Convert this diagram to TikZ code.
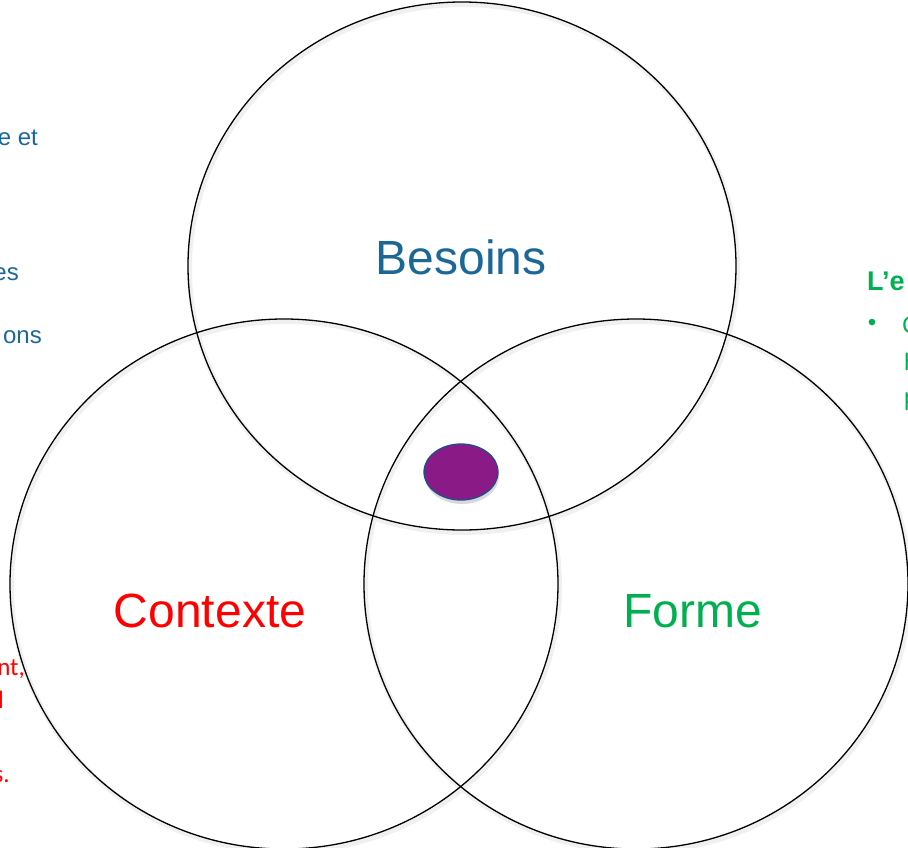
\documentclass[tikz,border=0pt]{standalone}
\usepackage{fontspec}
\setmainfont{Liberation Sans}
\newfontfamily\calib{Carlito}
\usepackage{xcolor}
\usetikzlibrary{shapes.geometric,shadows}
\definecolor{needblue}{HTML}{1B6897}
\definecolor{formgreen}{HTML}{00B050}
\definecolor{corepurple}{HTML}{8A1A85}
\definecolor{coreedge}{HTML}{1F4E8C}

\begin{document}
\begin{tikzpicture}[x=1pt,y=-1pt,
  setline/.style={line width=1.3pt},
  setshade/.style={line width=5pt,black!6},
  biglabel/.style={anchor=base,font=\fontsize{48}{56}\selectfont},
  bluetext/.style={needblue,anchor=base east,inner sep=0pt,font=\fontsize{24}{28}\selectfont},
  redtext/.style={red,anchor=base east,inner sep=0pt,font=\calib\fontsize{25}{30}\selectfont},
  greentext/.style={formgreen,anchor=base west,inner sep=0pt,font=\fontsize{24}{28}\selectfont},
  coredot/.style={ellipse,draw=coreedge,line width=1.3pt,fill=corepurple,
    minimum width=74pt,minimum height=56pt,inner sep=0pt,
    drop shadow={opacity=0.3,shadow xshift=1pt,shadow yshift=-4pt}}]
\useasboundingbox (0,0) rectangle (908,847);
\clip (0,0) rectangle (908,847);
% faint shadows of the three sets
\draw[setshade](463.5,268.5)ellipse[x radius=274, y radius=264];
\draw[setshade](285.5,586.5)ellipse[x radius=274, y radius=265];
\draw[setshade](637.5,586.5)ellipse[x radius=272, y radius=265];
% the three sets
\draw[setline](462,266)ellipse[x radius=274, y radius=264]
(461,274)node[biglabel,needblue](besoins){Besoins};
\draw[setline](284,584)ellipse[x radius=274, y radius=265]
(210,627)node[biglabel,red](contexte){Contexte};
\draw[setline](636,584)ellipse[x radius=272, y radius=265]
(693,627)node[biglabel,formgreen](forme){Forme};
\node[coredot](core) at (461,472){};
% text cut off at the left edge
\node[bluetext](bl1) at (38,145){e et};
\node[bluetext](bl2) at (19,280){es};
\node[bluetext](bl3) at (42,343){ons};
\node[redtext](rd1) at (25,675){nt,};
\node[redtext](rd2) at (4,708){l};
\node[redtext](rd3) at (10,782){s.};
% text cut off at the right edge
\node[greentext,font=\bfseries\fontsize{27}{32}\selectfont](gr1) at (867,290){L’e};
\node[formgreen,inner sep=0pt,font=\fontsize{24}{28}\selectfont](gr2) at (872,325){\textbullet};
\node[greentext](gr3) at (902,333){C};
\node[greentext](gr4) at (904,370){h};
\node[greentext](gr5) at (904,405){p};
\end{tikzpicture}
\end{document}
